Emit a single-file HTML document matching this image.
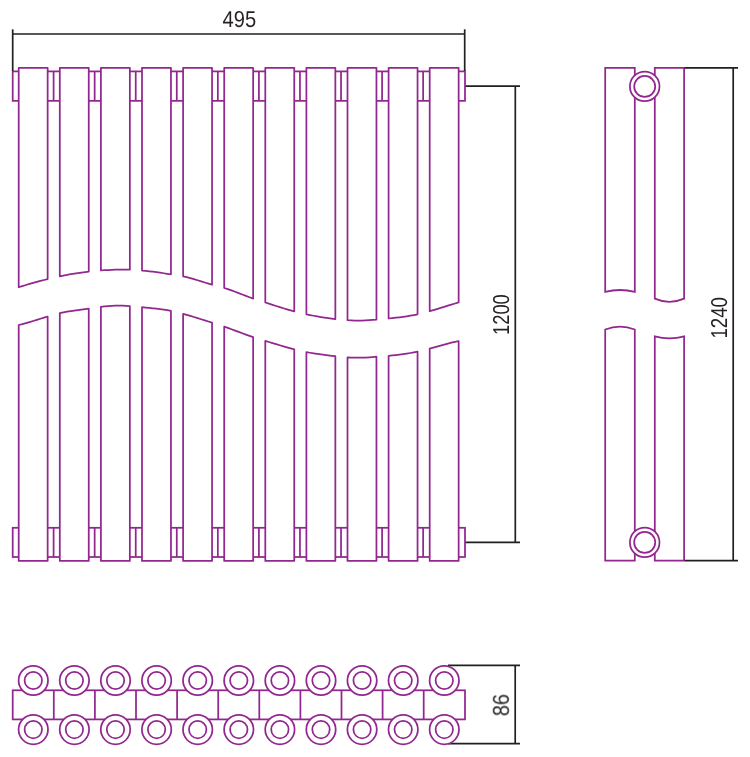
<!DOCTYPE html>
<html><head><meta charset="utf-8"><title>Radiator drawing</title>
<style>
html,body{margin:0;padding:0;background:#fff;}
svg{display:block;font-family:"Liberation Sans",sans-serif;}
</style></head>
<body>
<svg width="750" height="757" viewBox="0 0 750 757" text-rendering="geometricPrecision">
<rect width="750" height="757" fill="#fff"/>
<rect x="12.70" y="71.40" width="452.30" height="29.45" fill="none" stroke="#92278f" stroke-width="1.75"/>
<line x1="53.60" y1="71.40" x2="53.60" y2="100.85" stroke="#92278f" stroke-width="1.75"/>
<line x1="94.66" y1="71.40" x2="94.66" y2="100.85" stroke="#92278f" stroke-width="1.75"/>
<line x1="135.72" y1="71.40" x2="135.72" y2="100.85" stroke="#92278f" stroke-width="1.75"/>
<line x1="176.78" y1="71.40" x2="176.78" y2="100.85" stroke="#92278f" stroke-width="1.75"/>
<line x1="217.84" y1="71.40" x2="217.84" y2="100.85" stroke="#92278f" stroke-width="1.75"/>
<line x1="258.90" y1="71.40" x2="258.90" y2="100.85" stroke="#92278f" stroke-width="1.75"/>
<line x1="299.96" y1="71.40" x2="299.96" y2="100.85" stroke="#92278f" stroke-width="1.75"/>
<line x1="341.02" y1="71.40" x2="341.02" y2="100.85" stroke="#92278f" stroke-width="1.75"/>
<line x1="382.08" y1="71.40" x2="382.08" y2="100.85" stroke="#92278f" stroke-width="1.75"/>
<line x1="423.14" y1="71.40" x2="423.14" y2="100.85" stroke="#92278f" stroke-width="1.75"/>
<rect x="12.70" y="527.80" width="452.30" height="29.20" fill="none" stroke="#92278f" stroke-width="1.75"/>
<line x1="53.60" y1="527.80" x2="53.60" y2="557.00" stroke="#92278f" stroke-width="1.75"/>
<line x1="94.66" y1="527.80" x2="94.66" y2="557.00" stroke="#92278f" stroke-width="1.75"/>
<line x1="135.72" y1="527.80" x2="135.72" y2="557.00" stroke="#92278f" stroke-width="1.75"/>
<line x1="176.78" y1="527.80" x2="176.78" y2="557.00" stroke="#92278f" stroke-width="1.75"/>
<line x1="217.84" y1="527.80" x2="217.84" y2="557.00" stroke="#92278f" stroke-width="1.75"/>
<line x1="258.90" y1="527.80" x2="258.90" y2="557.00" stroke="#92278f" stroke-width="1.75"/>
<line x1="299.96" y1="527.80" x2="299.96" y2="557.00" stroke="#92278f" stroke-width="1.75"/>
<line x1="341.02" y1="527.80" x2="341.02" y2="557.00" stroke="#92278f" stroke-width="1.75"/>
<line x1="382.08" y1="527.80" x2="382.08" y2="557.00" stroke="#92278f" stroke-width="1.75"/>
<line x1="423.14" y1="527.80" x2="423.14" y2="557.00" stroke="#92278f" stroke-width="1.75"/>
<path d="M18.70,287.20 L18.70,67.85 L47.65,67.85 L47.65,279.09 L44.03,280.00 L40.41,280.94 L36.79,281.92 L33.17,282.93 L29.56,283.96 L25.94,285.02 L22.32,286.10 L18.70,287.20 Z" fill="#fff" stroke="#92278f" stroke-width="1.75" stroke-linejoin="round"/>
<path d="M18.70,325.00 L18.70,560.9 L47.65,560.9 L47.65,316.51 L44.03,317.62 L40.41,318.76 L36.79,319.90 L33.17,321.03 L29.56,322.13 L25.94,323.16 L22.32,324.13 L18.70,325.00 Z" fill="#fff" stroke="#92278f" stroke-width="1.75" stroke-linejoin="round"/>
<path d="M59.80,276.30 L59.80,67.85 L88.75,67.85 L88.75,271.63 L85.13,272.05 L81.51,272.53 L77.89,273.04 L74.28,273.61 L70.66,274.21 L67.04,274.87 L63.42,275.56 L59.80,276.30 Z" fill="#fff" stroke="#92278f" stroke-width="1.75" stroke-linejoin="round"/>
<path d="M59.80,313.20 L59.80,560.9 L88.75,560.9 L88.75,308.54 L85.13,309.04 L81.51,309.53 L77.89,310.03 L74.28,310.55 L70.66,311.11 L67.04,311.72 L63.42,312.42 L59.80,313.20 Z" fill="#fff" stroke="#92278f" stroke-width="1.75" stroke-linejoin="round"/>
<path d="M100.90,270.50 L100.90,67.85 L129.85,67.85 L129.85,269.74 L126.23,269.64 L122.61,269.59 L118.99,269.61 L115.38,269.69 L111.76,269.83 L108.14,270.01 L104.52,270.24 L100.90,270.50 Z" fill="#fff" stroke="#92278f" stroke-width="1.75" stroke-linejoin="round"/>
<path d="M100.90,306.80 L100.90,560.9 L129.85,560.9 L129.85,306.09 L126.23,305.83 L122.61,305.66 L118.99,305.59 L115.38,305.64 L111.76,305.79 L108.14,306.04 L104.52,306.38 L100.90,306.80 Z" fill="#fff" stroke="#92278f" stroke-width="1.75" stroke-linejoin="round"/>
<path d="M142.00,270.53 L142.00,67.85 L170.95,67.85 L170.95,274.31 L167.33,273.78 L163.71,273.25 L160.09,272.73 L156.47,272.22 L152.86,271.74 L149.24,271.29 L145.62,270.89 L142.00,270.53 Z" fill="#fff" stroke="#92278f" stroke-width="1.75" stroke-linejoin="round"/>
<path d="M142.00,307.23 L142.00,560.9 L170.95,560.9 L170.95,310.87 L167.33,310.20 L163.71,309.62 L160.09,309.12 L156.47,308.68 L152.86,308.29 L149.24,307.93 L145.62,307.58 L142.00,307.23 Z" fill="#fff" stroke="#92278f" stroke-width="1.75" stroke-linejoin="round"/>
<path d="M183.10,276.30 L183.10,67.85 L212.05,67.85 L212.05,284.70 L208.43,283.65 L204.81,282.53 L201.19,281.38 L197.57,280.24 L193.96,279.13 L190.34,278.08 L186.72,277.13 L183.10,276.30 Z" fill="#fff" stroke="#92278f" stroke-width="1.75" stroke-linejoin="round"/>
<path d="M183.10,313.80 L183.10,560.9 L212.05,560.9 L212.05,322.69 L208.43,321.54 L204.81,320.39 L201.19,319.24 L197.57,318.10 L193.96,316.97 L190.34,315.88 L186.72,314.82 L183.10,313.80 Z" fill="#fff" stroke="#92278f" stroke-width="1.75" stroke-linejoin="round"/>
<path d="M224.20,288.00 L224.20,67.85 L253.15,67.85 L253.15,298.58 L249.53,297.28 L245.91,295.91 L242.29,294.51 L238.67,293.11 L235.06,291.72 L231.44,290.39 L227.82,289.14 L224.20,288.00 Z" fill="#fff" stroke="#92278f" stroke-width="1.75" stroke-linejoin="round"/>
<path d="M224.20,326.60 L224.20,560.9 L253.15,560.9 L253.15,337.18 L249.53,335.95 L245.91,334.65 L242.29,333.30 L238.67,331.93 L235.06,330.56 L231.44,329.20 L227.82,327.87 L224.20,326.60 Z" fill="#fff" stroke="#92278f" stroke-width="1.75" stroke-linejoin="round"/>
<path d="M265.30,302.50 L265.30,67.85 L294.25,67.85 L294.25,311.41 L290.63,310.42 L287.01,309.36 L283.39,308.27 L279.77,307.14 L276.16,305.98 L272.54,304.82 L268.92,303.65 L265.30,302.50 Z" fill="#fff" stroke="#92278f" stroke-width="1.75" stroke-linejoin="round"/>
<path d="M265.30,340.90 L265.30,560.9 L294.25,560.9 L294.25,349.31 L290.63,348.36 L287.01,347.36 L283.39,346.32 L279.77,345.26 L276.16,344.17 L272.54,343.08 L268.92,341.98 L265.30,340.90 Z" fill="#fff" stroke="#92278f" stroke-width="1.75" stroke-linejoin="round"/>
<path d="M306.40,314.29 L306.40,67.85 L335.35,67.85 L335.35,319.09 L331.73,318.66 L328.11,318.17 L324.49,317.63 L320.88,317.05 L317.26,316.42 L313.64,315.75 L310.02,315.04 L306.40,314.29 Z" fill="#fff" stroke="#92278f" stroke-width="1.75" stroke-linejoin="round"/>
<path d="M306.40,352.08 L306.40,560.9 L335.35,560.9 L335.35,356.19 L331.73,355.81 L328.11,355.39 L324.49,354.95 L320.88,354.47 L317.26,353.95 L313.64,353.39 L310.02,352.76 L306.40,352.08 Z" fill="#fff" stroke="#92278f" stroke-width="1.75" stroke-linejoin="round"/>
<path d="M347.50,320.20 L347.50,67.85 L376.45,67.85 L376.45,319.63 L372.83,319.95 L369.21,320.24 L365.59,320.46 L361.98,320.60 L358.36,320.63 L354.74,320.57 L351.12,320.42 L347.50,320.20 Z" fill="#fff" stroke="#92278f" stroke-width="1.75" stroke-linejoin="round"/>
<path d="M347.50,357.30 L347.50,560.9 L376.45,560.9 L376.45,356.73 L372.83,357.02 L369.21,357.31 L365.59,357.55 L361.98,357.70 L358.36,357.74 L354.74,357.68 L351.12,357.53 L347.50,357.30 Z" fill="#fff" stroke="#92278f" stroke-width="1.75" stroke-linejoin="round"/>
<path d="M388.60,318.50 L388.60,67.85 L417.55,67.85 L417.55,314.28 L413.93,315.02 L410.31,315.69 L406.69,316.29 L403.08,316.82 L399.46,317.30 L395.84,317.73 L392.22,318.13 L388.60,318.50 Z" fill="#fff" stroke="#92278f" stroke-width="1.75" stroke-linejoin="round"/>
<path d="M388.60,355.80 L388.60,560.9 L417.55,560.9 L417.55,351.58 L413.93,352.33 L410.31,353.01 L406.69,353.62 L403.08,354.17 L399.46,354.66 L395.84,355.09 L392.22,355.47 L388.60,355.80 Z" fill="#fff" stroke="#92278f" stroke-width="1.75" stroke-linejoin="round"/>
<path d="M429.70,311.19 L429.70,67.85 L458.65,67.85 L458.65,302.41 L455.03,303.47 L451.41,304.56 L447.79,305.68 L444.17,306.81 L440.56,307.94 L436.94,309.05 L433.32,310.14 L429.70,311.19 Z" fill="#fff" stroke="#92278f" stroke-width="1.75" stroke-linejoin="round"/>
<path d="M429.70,348.59 L429.70,560.9 L458.65,560.9 L458.65,341.01 L455.03,341.83 L451.41,342.72 L447.79,343.65 L444.17,344.62 L440.56,345.62 L436.94,346.62 L433.32,347.61 L429.70,348.59 Z" fill="#fff" stroke="#92278f" stroke-width="1.75" stroke-linejoin="round"/>
<line x1="12.70" y1="29.30" x2="12.70" y2="71.00" stroke="#231f20" stroke-width="1.7"/>
<line x1="464.70" y1="29.30" x2="464.70" y2="71.00" stroke="#231f20" stroke-width="1.7"/>
<line x1="12.70" y1="34.00" x2="464.70" y2="34.00" stroke="#231f20" stroke-width="1.7"/>
<line x1="465.70" y1="86.10" x2="520.00" y2="86.10" stroke="#231f20" stroke-width="1.7"/>
<line x1="465.70" y1="542.30" x2="520.00" y2="542.30" stroke="#231f20" stroke-width="1.7"/>
<line x1="515.30" y1="86.10" x2="515.30" y2="542.30" stroke="#231f20" stroke-width="1.7"/>
<path d="M605.2,291.8 L605.2,67.8 L634.8,67.8 L634.8,291.8 Q620.0,288.2 605.2,291.8 Z" fill="none" stroke="#92278f" stroke-width="1.75"/>
<path d="M605.2,329.5 L605.2,560.6 L634.8,560.6 L634.8,329.5 Q620.0,323.9 605.2,329.5 Z" fill="none" stroke="#92278f" stroke-width="1.75"/>
<path d="M654.8,298.6 L654.8,67.8 L684.1,67.8 L684.1,298.6 Q669.45,305.0 654.8,298.6 Z" fill="none" stroke="#92278f" stroke-width="1.75"/>
<path d="M654.8,336.4 L654.8,560.6 L684.1,560.6 L684.1,336.4 Q669.45,340.2 654.8,336.4 Z" fill="none" stroke="#92278f" stroke-width="1.75"/>
<circle cx="644.7" cy="86.45" r="14.8" fill="#fff" stroke="#92278f" stroke-width="1.75"/>
<circle cx="644.7" cy="86.45" r="10.5" fill="#fff" stroke="#92278f" stroke-width="1.75"/>
<circle cx="644.7" cy="542.4" r="14.8" fill="#fff" stroke="#92278f" stroke-width="1.75"/>
<circle cx="644.7" cy="542.4" r="10.5" fill="#fff" stroke="#92278f" stroke-width="1.75"/>
<line x1="684.70" y1="67.80" x2="738.00" y2="67.80" stroke="#231f20" stroke-width="1.7"/>
<line x1="684.70" y1="560.60" x2="738.00" y2="560.60" stroke="#231f20" stroke-width="1.7"/>
<line x1="733.20" y1="67.80" x2="733.20" y2="560.60" stroke="#231f20" stroke-width="1.7"/>
<rect x="12.70" y="690.30" width="452.30" height="29.10" fill="none" stroke="#92278f" stroke-width="1.75"/>
<line x1="53.80" y1="690.30" x2="53.80" y2="719.40" stroke="#92278f" stroke-width="1.75"/>
<line x1="94.90" y1="690.30" x2="94.90" y2="719.40" stroke="#92278f" stroke-width="1.75"/>
<line x1="136.00" y1="690.30" x2="136.00" y2="719.40" stroke="#92278f" stroke-width="1.75"/>
<line x1="177.10" y1="690.30" x2="177.10" y2="719.40" stroke="#92278f" stroke-width="1.75"/>
<line x1="218.20" y1="690.30" x2="218.20" y2="719.40" stroke="#92278f" stroke-width="1.75"/>
<line x1="259.30" y1="690.30" x2="259.30" y2="719.40" stroke="#92278f" stroke-width="1.75"/>
<line x1="300.40" y1="690.30" x2="300.40" y2="719.40" stroke="#92278f" stroke-width="1.75"/>
<line x1="341.50" y1="690.30" x2="341.50" y2="719.40" stroke="#92278f" stroke-width="1.75"/>
<line x1="382.60" y1="690.30" x2="382.60" y2="719.40" stroke="#92278f" stroke-width="1.75"/>
<line x1="423.70" y1="690.30" x2="423.70" y2="719.40" stroke="#92278f" stroke-width="1.75"/>
<line x1="448.00" y1="665.40" x2="520.00" y2="665.40" stroke="#231f20" stroke-width="1.7"/>
<line x1="448.00" y1="743.70" x2="520.00" y2="743.70" stroke="#231f20" stroke-width="1.7"/>
<line x1="515.20" y1="665.40" x2="515.20" y2="743.70" stroke="#231f20" stroke-width="1.7"/>
<circle cx="33.30" cy="680.5" r="14.7" fill="#fff" stroke="#92278f" stroke-width="1.75"/>
<circle cx="33.30" cy="680.5" r="8.7" fill="#fff" stroke="#92278f" stroke-width="1.75"/>
<circle cx="33.30" cy="729.6" r="14.7" fill="#fff" stroke="#92278f" stroke-width="1.75"/>
<circle cx="33.30" cy="729.6" r="8.7" fill="#fff" stroke="#92278f" stroke-width="1.75"/>
<circle cx="74.40" cy="680.5" r="14.7" fill="#fff" stroke="#92278f" stroke-width="1.75"/>
<circle cx="74.40" cy="680.5" r="8.7" fill="#fff" stroke="#92278f" stroke-width="1.75"/>
<circle cx="74.40" cy="729.6" r="14.7" fill="#fff" stroke="#92278f" stroke-width="1.75"/>
<circle cx="74.40" cy="729.6" r="8.7" fill="#fff" stroke="#92278f" stroke-width="1.75"/>
<circle cx="115.50" cy="680.5" r="14.7" fill="#fff" stroke="#92278f" stroke-width="1.75"/>
<circle cx="115.50" cy="680.5" r="8.7" fill="#fff" stroke="#92278f" stroke-width="1.75"/>
<circle cx="115.50" cy="729.6" r="14.7" fill="#fff" stroke="#92278f" stroke-width="1.75"/>
<circle cx="115.50" cy="729.6" r="8.7" fill="#fff" stroke="#92278f" stroke-width="1.75"/>
<circle cx="156.60" cy="680.5" r="14.7" fill="#fff" stroke="#92278f" stroke-width="1.75"/>
<circle cx="156.60" cy="680.5" r="8.7" fill="#fff" stroke="#92278f" stroke-width="1.75"/>
<circle cx="156.60" cy="729.6" r="14.7" fill="#fff" stroke="#92278f" stroke-width="1.75"/>
<circle cx="156.60" cy="729.6" r="8.7" fill="#fff" stroke="#92278f" stroke-width="1.75"/>
<circle cx="197.70" cy="680.5" r="14.7" fill="#fff" stroke="#92278f" stroke-width="1.75"/>
<circle cx="197.70" cy="680.5" r="8.7" fill="#fff" stroke="#92278f" stroke-width="1.75"/>
<circle cx="197.70" cy="729.6" r="14.7" fill="#fff" stroke="#92278f" stroke-width="1.75"/>
<circle cx="197.70" cy="729.6" r="8.7" fill="#fff" stroke="#92278f" stroke-width="1.75"/>
<circle cx="238.80" cy="680.5" r="14.7" fill="#fff" stroke="#92278f" stroke-width="1.75"/>
<circle cx="238.80" cy="680.5" r="8.7" fill="#fff" stroke="#92278f" stroke-width="1.75"/>
<circle cx="238.80" cy="729.6" r="14.7" fill="#fff" stroke="#92278f" stroke-width="1.75"/>
<circle cx="238.80" cy="729.6" r="8.7" fill="#fff" stroke="#92278f" stroke-width="1.75"/>
<circle cx="279.90" cy="680.5" r="14.7" fill="#fff" stroke="#92278f" stroke-width="1.75"/>
<circle cx="279.90" cy="680.5" r="8.7" fill="#fff" stroke="#92278f" stroke-width="1.75"/>
<circle cx="279.90" cy="729.6" r="14.7" fill="#fff" stroke="#92278f" stroke-width="1.75"/>
<circle cx="279.90" cy="729.6" r="8.7" fill="#fff" stroke="#92278f" stroke-width="1.75"/>
<circle cx="321.00" cy="680.5" r="14.7" fill="#fff" stroke="#92278f" stroke-width="1.75"/>
<circle cx="321.00" cy="680.5" r="8.7" fill="#fff" stroke="#92278f" stroke-width="1.75"/>
<circle cx="321.00" cy="729.6" r="14.7" fill="#fff" stroke="#92278f" stroke-width="1.75"/>
<circle cx="321.00" cy="729.6" r="8.7" fill="#fff" stroke="#92278f" stroke-width="1.75"/>
<circle cx="362.10" cy="680.5" r="14.7" fill="#fff" stroke="#92278f" stroke-width="1.75"/>
<circle cx="362.10" cy="680.5" r="8.7" fill="#fff" stroke="#92278f" stroke-width="1.75"/>
<circle cx="362.10" cy="729.6" r="14.7" fill="#fff" stroke="#92278f" stroke-width="1.75"/>
<circle cx="362.10" cy="729.6" r="8.7" fill="#fff" stroke="#92278f" stroke-width="1.75"/>
<circle cx="403.20" cy="680.5" r="14.7" fill="#fff" stroke="#92278f" stroke-width="1.75"/>
<circle cx="403.20" cy="680.5" r="8.7" fill="#fff" stroke="#92278f" stroke-width="1.75"/>
<circle cx="403.20" cy="729.6" r="14.7" fill="#fff" stroke="#92278f" stroke-width="1.75"/>
<circle cx="403.20" cy="729.6" r="8.7" fill="#fff" stroke="#92278f" stroke-width="1.75"/>
<circle cx="444.30" cy="680.5" r="14.7" fill="#fff" stroke="#92278f" stroke-width="1.75"/>
<circle cx="444.30" cy="680.5" r="8.7" fill="#fff" stroke="#92278f" stroke-width="1.75"/>
<circle cx="444.30" cy="729.6" r="14.7" fill="#fff" stroke="#92278f" stroke-width="1.75"/>
<circle cx="444.30" cy="729.6" r="8.7" fill="#fff" stroke="#92278f" stroke-width="1.75"/>
<g opacity="0.99">
<text transform="translate(239.3,27.3) scale(0.875,1)" text-anchor="middle" font-size="23" fill="#231f20">495</text>
<text transform="translate(508.8,314.6) rotate(-90) scale(0.796,1)" text-anchor="middle" font-size="23" fill="#231f20">1200</text>
<text transform="translate(726.8,317.8) rotate(-90) scale(0.814,1)" text-anchor="middle" font-size="23" fill="#231f20">1240</text>
<text transform="translate(508.8,705.1) rotate(-90) scale(0.868,1)" text-anchor="middle" font-size="23" fill="#231f20">86</text>
</g>
</svg>
</body></html>
